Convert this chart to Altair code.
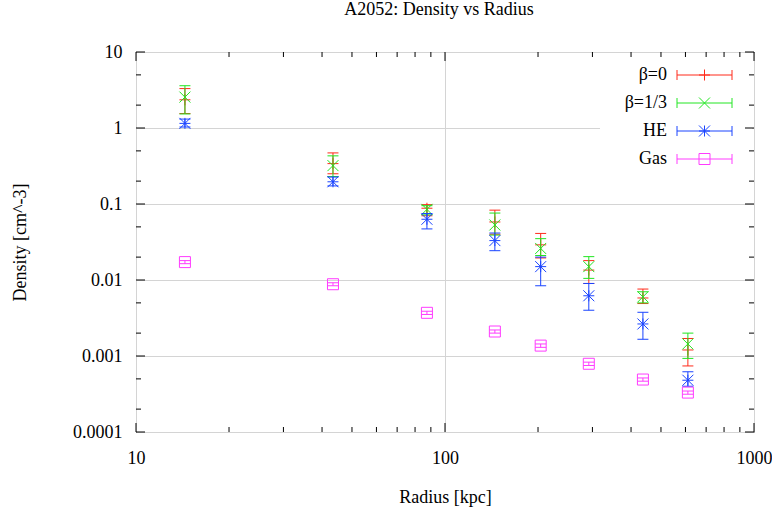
import altair as alt
import pandas as pd

# Radius of each annulus [kpc]
radius = [14.4, 43.4, 87.4, 145, 204, 292, 437, 611]

# Density profiles [cm^-3]: centre value with lower/upper error bounds
beta0 = [2.35, 0.34, 0.088, 0.058, 0.029, 0.0135, 0.0058, 0.0012]
beta0_lo = [1.55, 0.25, 0.070, 0.040, 0.0195, 0.0090, 0.0049, 0.00074]
beta0_hi = [3.3, 0.47, 0.098, 0.083, 0.041, 0.018, 0.0076, 0.0017]

beta13 = [2.55, 0.32, 0.085, 0.053, 0.026, 0.015, 0.0060, 0.00144]
beta13_lo = [1.53, 0.23, 0.072, 0.039, 0.021, 0.0105, 0.0050, 0.00093]
beta13_hi = [3.6, 0.43, 0.095, 0.076, 0.035, 0.0203, 0.0070, 0.0020]

he = [1.15, 0.196, 0.063, 0.033, 0.015, 0.0062, 0.00264, 0.00048]
he_lo = [1.03, 0.173, 0.047, 0.0243, 0.0084, 0.0040, 0.00166, 0.00040]
he_hi = [1.31, 0.226, 0.075, 0.0415, 0.020, 0.0090, 0.00376, 0.00062]

gas = [0.0172, 0.0088, 0.0037, 0.0021, 0.00137, 0.00079, 0.00049, 0.00033]
gas_lo = [0.0164, 0.0084, 0.00352, 0.0020, 0.00130, 0.00075, 0.000466, 0.000314]
gas_hi = [0.0180, 0.0092, 0.00388, 0.0022, 0.00144, 0.00083, 0.000514, 0.000346]

series_names = ["β=0", "β=1/3", "HE", "Gas"]
series_values = [(beta0, beta0_lo, beta0_hi), (beta13, beta13_lo, beta13_hi),
                 (he, he_lo, he_hi), (gas, gas_lo, gas_hi)]

x_major = [10, 100, 1000]
x_minor = [m * d for d in (10, 100) for m in range(2, 10)]
y_major = [0.0001, 0.001, 0.01, 0.1, 1, 10]
y_minor = [m * d for d in (0.0001, 0.001, 0.01, 0.1, 1) for m in (2, 5)]

# Styling
W, H = 618, 380
FONT = "Liberation Serif"
FS = 18
colors = ["#ff2a1a", "#22e622", "#1a44ff", "#ff3cff"]
PLUS = "M-1,0L1,0M0,-1L0,1"
CROSS = "M-1,-1L1,1M-1,1L1,-1"
STAR = "M-1,0L1,0M0,-1L0,1M-1,-1L1,1M-1,1L1,-1"
shapes = [PLUS, CROSS, STAR, "square"]
CAP = "M-1,0L1,0"
MSIZE = 121

xscale = alt.Scale(type="log", domain=[10, 1000], nice=False)
yscale = alt.Scale(type="log", domain=[0.0001, 10], nice=False)

xaxis = alt.Axis(values=x_major, format="~g", grid=True, gridColor="#d4d4d4",
                 ticks=False, tickSize=0, domain=False, labelPadding=26,
                 labelBaseline="middle", labelFlush=False,
                 title="Radius [kpc]", titleY=65, titleBaseline="middle")
yaxis = alt.Axis(values=y_major, format="~g", grid=True, gridColor="#d4d4d4",
                 ticks=False, tickSize=0, domain=False, labelPadding=14,
                 labelBaseline="middle", labelFlush=False,
                 title="Density [cm^-3]", titleX=-116, titleY=190,
                 titleAngle=-90, titleAlign="center", titleBaseline="middle")

rows = []
for name, (c, lo, hi) in zip(series_names, series_values):
    for r, v, l, h in zip(radius, c, lo, hi):
        rows.append({"series": name, "r": r, "v": v, "lo": l, "hi": h})
df = pd.DataFrame(rows)

layers = []

# White box behind the key
layers.append(
    alt.Chart(pd.DataFrame({"k": [0]})).mark_rect(color="white").encode(
        x=alt.value(464), x2=alt.value(616), y=alt.value(6), y2=alt.value(122)
    )
)

# Inward ticks on all four sides
def xticks(vals, length):
    d = pd.DataFrame({"r": vals})
    bottom = alt.Chart(d).mark_rule(color="black", strokeWidth=1).encode(
        x=alt.X("r:Q", scale=xscale, axis=xaxis), y=alt.value(H), y2=alt.value(H - length))
    top = alt.Chart(d).mark_rule(color="black", strokeWidth=1).encode(
        x=alt.X("r:Q", scale=xscale, axis=xaxis), y=alt.value(0), y2=alt.value(length))
    return [bottom, top]

def yticks(vals, length):
    d = pd.DataFrame({"v": vals})
    left = alt.Chart(d).mark_rule(color="black", strokeWidth=1).encode(
        y=alt.Y("v:Q", scale=yscale, axis=yaxis), x=alt.value(0), x2=alt.value(length))
    right = alt.Chart(d).mark_rule(color="black", strokeWidth=1).encode(
        y=alt.Y("v:Q", scale=yscale, axis=yaxis), x=alt.value(W), x2=alt.value(W - length))
    return [left, right]

layers += xticks(x_major, 9) + xticks(x_minor, 5)
layers += yticks(y_major, 9) + yticks(y_minor, 5)

# Data series: error bars, caps and markers
for name, color, shape in zip(series_names, colors, shapes):
    base = alt.Chart(df[df.series == name])
    X = alt.X("r:Q", scale=xscale, axis=xaxis)
    layers.append(base.mark_rule(color=color, strokeWidth=1).encode(
        x=X, y=alt.Y("lo:Q", scale=yscale, axis=yaxis), y2="hi:Q"))
    for fld in ("lo", "hi"):
        layers.append(base.mark_point(shape=CAP, size=MSIZE, filled=False,
                                      color=color, strokeWidth=1, opacity=1).encode(
            x=X, y=alt.Y(f"{fld}:Q", scale=yscale, axis=yaxis)))
    layers.append(base.mark_point(shape=shape, size=MSIZE, filled=False,
                                  color=color, strokeWidth=1, opacity=1).encode(
        x=X, y=alt.Y("v:Q", scale=yscale, axis=yaxis)))

# Key
key_y = [23, 51, 79, 107]
for name, color, shape, yy in zip(series_names, colors, shapes, key_y):
    kd = alt.Chart(pd.DataFrame({"label": [name]}))
    layers.append(kd.mark_text(align="right", baseline="middle", font=FONT,
                               fontSize=FS, color="black").encode(
        x=alt.value(531), y=alt.value(yy), text="label:N"))
    layers.append(kd.mark_rule(color=color, strokeWidth=1).encode(
        x=alt.value(541), x2=alt.value(596), y=alt.value(yy)))
    for xx in (541, 596):
        layers.append(kd.mark_rule(color=color, strokeWidth=1).encode(
            x=alt.value(xx), y=alt.value(yy - 5), y2=alt.value(yy + 5)))
    layers.append(kd.mark_point(shape=shape, size=MSIZE, filled=False,
                                color=color, strokeWidth=1, opacity=1).encode(
        x=alt.value(568.5), y=alt.value(yy)))

chart = alt.layer(*layers).properties(
    width=W, height=H,
    title=alt.Title("A2052: Density vs Radius", font=FONT, fontSize=FS,
                    fontWeight="normal", frame="group", offset=15,
                    baseline="middle", dx=-6),
    autosize=alt.AutoSizeParams(type="none"),
    padding={"left": 136, "top": 52, "right": 18, "bottom": 84},
    background="white",
).configure_view(
    stroke="black", strokeWidth=1
).configure_axis(
    labelFont=FONT, labelFontSize=FS, labelColor="black",
    titleFont=FONT, titleFontSize=FS, titleFontWeight="normal", titleColor="black",
)

chart.save("out.html", embed_options={"renderer": "svg", "actions": False})
